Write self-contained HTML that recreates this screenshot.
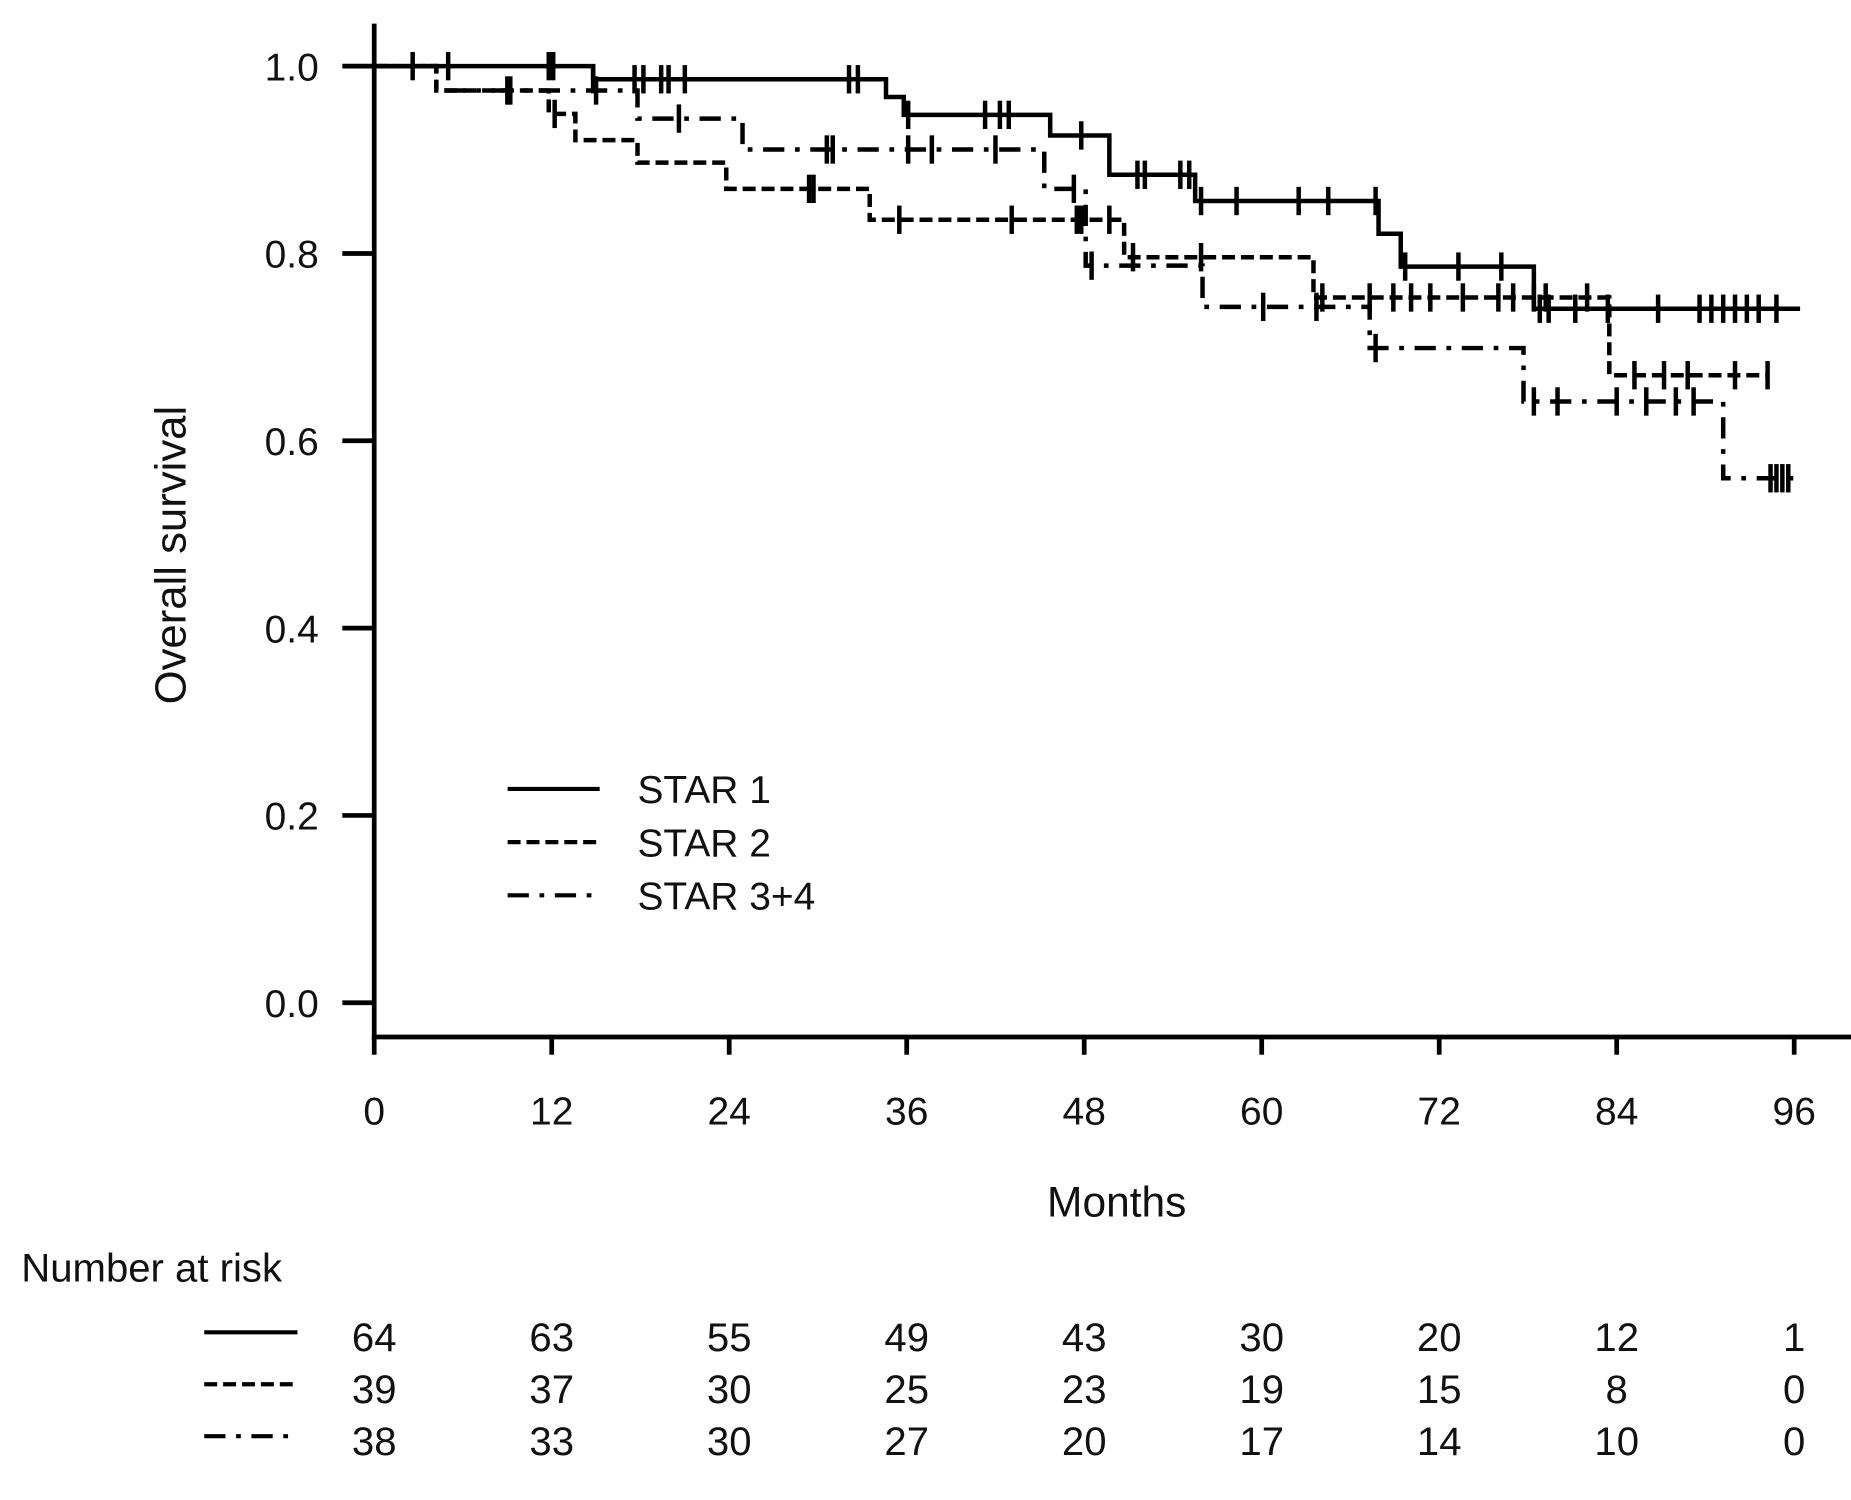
<!DOCTYPE html>
<html><head><meta charset="utf-8"><style>
html,body{margin:0;padding:0;background:#fff}
svg{display:block}
text{font-family:"Liberation Sans",sans-serif;fill:#111}
</style></head><body>
<svg id="chart" width="1851" height="1500" viewBox="0 0 1568 1270" preserveAspectRatio="none" xmlns="http://www.w3.org/2000/svg">
<g id="axes"></g>
<g id="curves"></g>
<g id="legend">
<line x1="430" y1="668" x2="508" y2="668" stroke="#000" stroke-width="3.5"/>
<line x1="430" y1="713" x2="508" y2="713" stroke="#000" stroke-width="3.5" stroke-dasharray="11,5"/>
<line x1="430" y1="758" x2="508" y2="758" stroke="#000" stroke-width="3.5" stroke-dasharray="18,9,4,9"/>
<text x="540" y="680" font-size="33">STAR 1</text>
<text x="540" y="725" font-size="33">STAR 2</text>
<text x="540" y="770" font-size="33">STAR 3+4</text>
</g>
<text x="946" y="1030" font-size="36" text-anchor="middle">Months</text>
<text transform="translate(157,470) rotate(-90)" font-size="37" text-anchor="middle">Overall survival</text>
<text x="18" y="1085" font-size="34">Number at risk</text>
<line x1="173" y1="1128" x2="252" y2="1128" stroke="#000" stroke-width="3.5"/>
<line x1="173" y1="1172" x2="252" y2="1172" stroke="#000" stroke-width="3.5" stroke-dasharray="11,5"/>
<line x1="173" y1="1216" x2="252" y2="1216" stroke="#000" stroke-width="3.5" stroke-dasharray="18,9,4,9"/>
<g id="risk"></g>
</svg>
<script>
const xTicks=[0,12,24,36,48,60,72,84,96];
const yTicks=[0.0,0.2,0.4,0.6,0.8,1.0];
const yTickLabels=["0.0","0.2","0.4","0.6","0.8","1.0"];
const s1Times=[0,14.8,34.6,35.8,45.7,49.7,55.5,67.9,69.4,78.4,96.4];
const s1Surv=[1.0,0.986,0.967,0.948,0.926,0.884,0.856,0.821,0.786,0.741,0.741];
const s1Cens=[2.6,5,11.8,12.1,14.8,17.6,18.2,19.4,19.9,21,32.1,32.7,36.1,41.3,42.3,42.9,47.8,51.6,52.1,54.5,55.1,55.9,58.3,62.5,64.5,67.7,69.7,73.3,76.2,78.8,79.4,81.2,83.4,86.8,89.6,90.4,91.2,92,92.8,93.6,94.8];
const s2Times=[0,4.2,11.8,13.6,17.8,23.8,33.5,50.7,63.5,83.5,94.2];
const s2Surv=[1.0,0.974,0.949,0.921,0.897,0.869,0.836,0.796,0.753,0.670,0.670];
const s2Cens=[9.2,12.2,29.4,29.7,35.5,43.1,47.5,47.8,49.7,51.3,55.9,64.1,67.3,68.9,70.1,71.4,73.6,76,77,78.4,79.2,82,85.2,87.2,88.8,92,94.2];
const s3Times=[0,4.2,17.8,24.9,45.3,48.1,56,67.3,77.7,91.2,96.2];
const s3Surv=[1.0,0.974,0.944,0.911,0.869,0.787,0.743,0.699,0.642,0.560,0.560];
const s3Cens=[9,15,20.6,30.6,31,36.1,37.7,42,47.3,48.5,60.1,63.7,67.7,78.4,80,84,86,88,89.2,94.4,94.8,95.2,95.6];
const riskRows=[[64,63,55,49,43,30,20,12,1],[39,37,30,25,23,19,15,8,0],[38,33,30,27,20,17,14,10,0]];
const NS="http://www.w3.org/2000/svg";
const X=m=>317+m*12.53, Y=s=>849-s*793;
function mk(t,a,p){const e=document.createElementNS(NS,t);for(const k in a)e.setAttribute(k,a[k]);p.appendChild(e);return e;}
const ax=document.getElementById('axes');
let e=mk('line',{x1:317,y1:20,x2:317,y2:880,stroke:'#000','stroke-width':4},ax);


e=mk('line',{x1:315,y1:878,x2:1568,y2:878,stroke:'#000','stroke-width':4},ax);


xTicks.forEach(t=>{
 let l=mk('line',{x1:X(t),y1:878,x2:X(t),y2:893,stroke:'#000','stroke-width':4},ax);
 
 
 let tx=mk('text',{x:X(t),y:952,'font-size':33,'text-anchor':'middle'},ax);tx.textContent=t;
 
 
});
yTicks.forEach((t,i)=>{
 let l=mk('line',{x1:290,y1:Y(t),x2:317,y2:Y(t),stroke:'#000','stroke-width':4},ax);
 
 
 let tx=mk('text',{x:270,y:Y(t)+12,'font-size':33,'text-anchor':'end'},ax);tx.textContent=yTickLabels[i];
 
 
});
function stepAt(times,surv,m){let s=surv[0];for(let i=0;i<times.length;i++)if(times[i]<=m)s=surv[i];return s;}
const cg=document.getElementById('curves');
function curve(times,surv,cens,dash,name){
 let d='M'+X(times[0])+','+Y(surv[0]);
 for(let i=1;i<times.length;i++){d+=' H'+X(times[i])+' V'+Y(surv[i]);}
 const a={d:d,fill:'none',stroke:'#000','stroke-width':3.8};if(dash)a['stroke-dasharray']=dash;
 let p=mk('path',a,cg);
 
 
 cens.forEach(m=>{const y=Y(stepAt(times,surv,m));
  let l=mk('line',{x1:X(m),y1:y-12,x2:X(m),y2:y+12,stroke:'#000','stroke-width':3.8},cg);
  
  
 });
}
curve(s1Times,s1Surv,s1Cens,null,'star1');
curve(s2Times,s2Surv,s2Cens,'11,5','star2');
curve(s3Times,s3Surv,s3Cens,'18,9,4,9','star34');
const rg=document.getElementById('risk');
const rowY=[1144,1188,1232];
riskRows.forEach((row,r)=>row.forEach((v,i)=>{
 let tx=mk('text',{x:X(xTicks[i]),y:rowY[r],'font-size':34,'text-anchor':'middle'},rg);tx.textContent=v;
 
 
}));
</script>
</body></html>
